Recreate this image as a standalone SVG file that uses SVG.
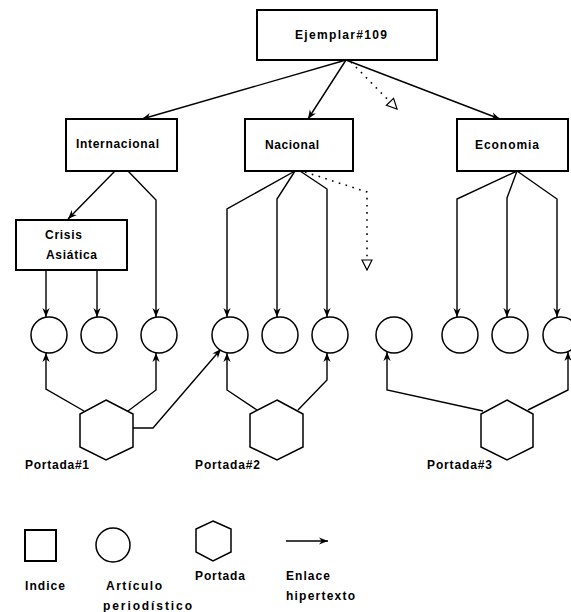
<svg xmlns="http://www.w3.org/2000/svg" width="571" height="612" viewBox="0 0 571 612">
<style>
.box{fill:#fff;stroke:#000;stroke-width:2}
.shape{fill:#fff;stroke:#000;stroke-width:1.5}
.ln{fill:none;stroke:#000;stroke-width:1.4;marker-end:url(#ah)}
.dot{fill:none;stroke:#000;stroke-width:1.6;stroke-dasharray:1.6 5.5;marker-end:url(#oh)}
text{font-family:"Liberation Sans",Arial,sans-serif;font-size:12px;font-weight:bold;fill:#000}
</style>
<defs>
<marker id="ah" viewBox="0 0 10 10" refX="10" refY="5" markerWidth="9" markerHeight="9" markerUnits="userSpaceOnUse" orient="auto">
<path d="M0,1 L10,5 L0,9 L3,5 z" fill="#000"/>
</marker>
<marker id="oh" viewBox="0 0 12 12" refX="11" refY="6" markerWidth="12" markerHeight="12" markerUnits="userSpaceOnUse" orient="auto">
<path d="M1,1 L11,6 L1,11 z" fill="#fff" stroke="#000" stroke-width="1.2"/>
</marker>
</defs>

<g id="connectors">
<path class="ln" d="M346,60 L142,119"/>
<path class="ln" d="M346,60 L308,119"/>
<path class="ln" d="M346,60 L500,119"/>
<path class="dot" d="M351,62 L397,109"/>
<path class="ln" d="M115,171 L68,219"/>
<path class="ln" d="M128,171 L156,200 L156,317"/>
<path class="ln" d="M46,270 L46,317"/>
<path class="ln" d="M97,270 L97,317"/>
<path class="ln" d="M295,171 L227,209 L227,317"/>
<path class="ln" d="M295,171 L277,199 L277,317"/>
<path class="ln" d="M300,171 L327,189 L327,317"/>
<path class="dot" d="M305,172 L367,192 L367,270"/>
<path class="ln" d="M517,171 L457,199 L457,317"/>
<path class="ln" d="M517,171 L507,198 L507,317"/>
<path class="ln" d="M517,171 L557,199 L557,317"/>
<path class="ln" d="M84,411 L46,389 L46,353"/>
<path class="ln" d="M128,411 L156,390 L156,353"/>
<path class="ln" d="M133,428 L153,428 L221,349"/>
<path class="ln" d="M257,410 L227,390 L227,353"/>
<path class="ln" d="M298,410 L327,380 L327,353"/>
<path class="ln" d="M483,411 L387,390 L387,352"/>
<path class="ln" d="M528,410 L568,390 L568,352"/>
</g>

<g id="ejemplar"><rect class="box" x="257" y="10" width="180" height="50"/><text x="295" y="39" textLength="92" lengthAdjust="spacing">Ejemplar#109</text></g>
<g id="internacional"><rect class="box" x="66" y="119" width="111" height="52"/><text x="76" y="148" textLength="83" lengthAdjust="spacing">Internacional</text></g>
<g id="nacional"><rect class="box" x="245" y="119" width="108" height="52"/><text x="265" y="149" textLength="54" lengthAdjust="spacing">Nacional</text></g>
<g id="economia"><rect class="box" x="457" y="119" width="111" height="52"/><text x="475" y="149" textLength="64" lengthAdjust="spacing">Economia</text></g>
<g id="crisis"><rect class="box" x="16" y="220" width="111" height="50"/><text x="45" y="239" textLength="37" lengthAdjust="spacing">Crisis</text><text x="46" y="259" textLength="51" lengthAdjust="spacing">Asiática</text></g>

<g id="a1"><circle class="shape" cx="49" cy="335" r="18"/></g>
<g id="a2"><circle class="shape" cx="99" cy="335" r="18"/></g>
<g id="a3"><circle class="shape" cx="159" cy="335" r="18"/></g>
<g id="a4"><circle class="shape" cx="230" cy="335" r="18"/></g>
<g id="a5"><circle class="shape" cx="280" cy="335" r="18"/></g>
<g id="a6"><circle class="shape" cx="330" cy="335" r="18"/></g>
<g id="a7"><circle class="shape" cx="394" cy="335" r="18"/></g>
<g id="a8"><circle class="shape" cx="460" cy="335" r="18"/></g>
<g id="a9"><circle class="shape" cx="510" cy="335" r="18"/></g>
<g id="a10"><circle class="shape" cx="561" cy="335" r="18"/></g>

<g id="portada1"><polygon class="shape" points="106,400 133,414 133,447 106,460 80,447 80,414"/><text x="25" y="469" textLength="64" lengthAdjust="spacing">Portada#1</text></g>
<g id="portada2"><polygon class="shape" points="277,400 303,414 303,447 277,460 250,447 250,414"/><text x="195" y="469" textLength="65" lengthAdjust="spacing">Portada#2</text></g>
<g id="portada3"><polygon class="shape" points="507,400 533,414 533,447 507,460 481,447 481,414"/><text x="427" y="469" textLength="65" lengthAdjust="spacing">Portada#3</text></g>

<g id="legend">
<rect class="box" x="25" y="530" width="31" height="31"/>
<circle class="shape" cx="113" cy="545" r="17"/>
<polygon class="shape" points="213,521 231,529 231,552 213,561 196,552 196,529"/>
<path class="ln" d="M286,541 L328,541"/>
<text x="25" y="590" textLength="40" lengthAdjust="spacing">Indice</text>
<text x="106" y="590" textLength="56" lengthAdjust="spacing">Artículo</text>
<text x="103" y="610" textLength="89" lengthAdjust="spacing">periodístico</text>
<text x="195" y="580" textLength="50" lengthAdjust="spacing">Portada</text>
<text x="286" y="580" textLength="44" lengthAdjust="spacing">Enlace</text>
<text x="286" y="600" textLength="69" lengthAdjust="spacing">hipertexto</text>
</g>
</svg>
